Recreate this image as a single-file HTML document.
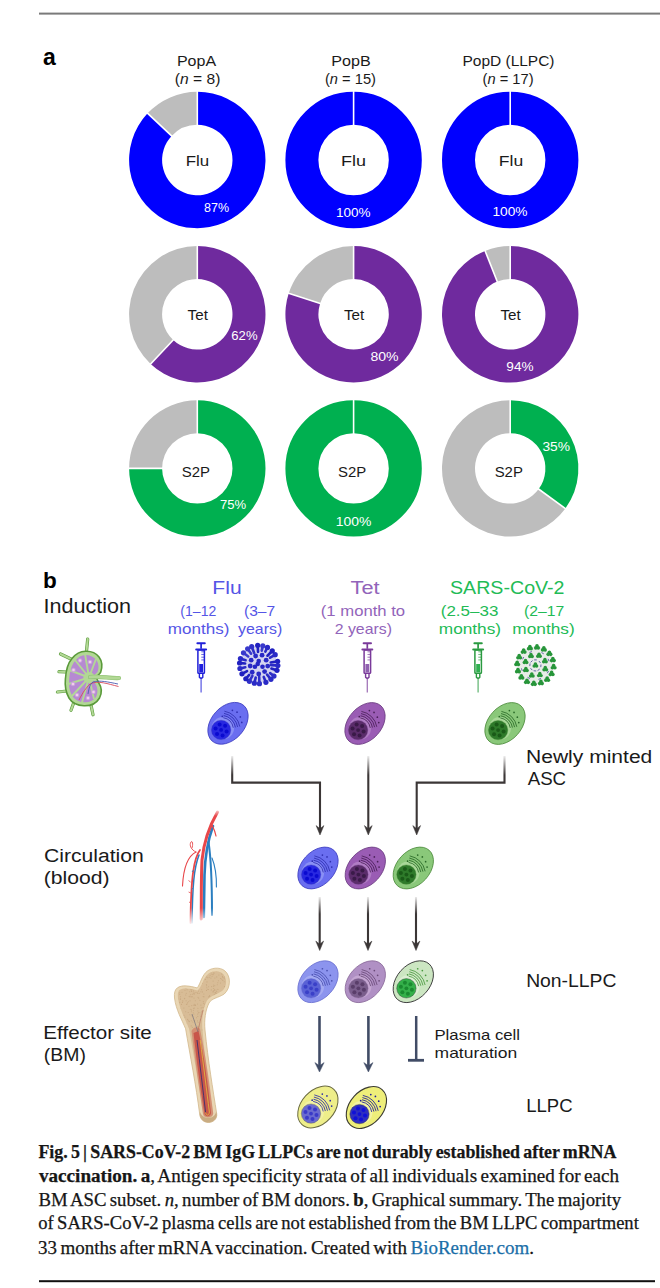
<!DOCTYPE html><html><head><meta charset="utf-8"><style>
html,body{margin:0;padding:0;background:#fff;width:660px;height:1288px;overflow:hidden}
svg{display:block}
text{font-family:"Liberation Sans", sans-serif}
text.serif{font-family:"Liberation Serif", serif;word-spacing:-1.3px;stroke:#161616;stroke-width:0.25px}
</style></head><body>
<svg width="660" height="1288" viewBox="0 0 660 1288">
<defs><linearGradient id="fd" x1="0" y1="0" x2="0" y2="1"><stop offset="0" stop-color="#fff" stop-opacity="1"/><stop offset="1" stop-color="#fff" stop-opacity="0"/></linearGradient></defs>
<rect x="39" y="12.6" width="621" height="2" fill="#7a7a7a"/>
<text x="43" y="64.5" font-size="23" font-weight="bold" fill="#000">a</text>
<text x="176.92" y="65.6" font-size="14.4" fill="#1a1a1a" textLength="39.18" lengthAdjust="spacingAndGlyphs">PopA</text>
<text x="331.21" y="65.6" font-size="14.4" fill="#1a1a1a" textLength="39.44" lengthAdjust="spacingAndGlyphs">PopB</text>
<text x="462.46" y="65.6" font-size="14.4" fill="#1a1a1a" textLength="92.07" lengthAdjust="spacingAndGlyphs">PopD (LLPC)</text>
<text x="174.86" y="84.4" font-size="14.4" fill="#1a1a1a" textLength="45.60" lengthAdjust="spacingAndGlyphs">(<tspan font-style="italic">n</tspan> = 8)</text>
<text x="324.92" y="84.4" font-size="14.4" fill="#1a1a1a" textLength="51.02" lengthAdjust="spacingAndGlyphs">(<tspan font-style="italic">n</tspan> = 15)</text>
<text x="482.52" y="84.4" font-size="14.4" fill="#1a1a1a" textLength="51.02" lengthAdjust="spacingAndGlyphs">(<tspan font-style="italic">n</tspan> = 17)</text>
<path d="M197.30,91.80 A68.2,68.2 0 1 1 147.58,113.31 L171.64,135.90 A35.2,35.2 0 1 0 197.30,124.80Z" fill="#0000ff"/>
<path d="M147.58,113.31 A68.2,68.2 0 0 1 197.30,91.80 L197.30,124.80 A35.2,35.2 0 0 0 171.64,135.90Z" fill="#bdbdbd"/>
<line x1="197.30" y1="125.80" x2="197.30" y2="90.80" stroke="#fff" stroke-width="1.6"/>
<line x1="172.37" y1="136.59" x2="146.86" y2="112.63" stroke="#fff" stroke-width="1.6"/>
<circle cx="353.6" cy="160" r="51.7" fill="none" stroke="#0000ff" stroke-width="33.0"/>
<line x1="353.60" y1="125.80" x2="353.60" y2="90.80" stroke="#fff" stroke-width="1.6"/>
<circle cx="510.2" cy="160" r="51.7" fill="none" stroke="#0000ff" stroke-width="33.0"/>
<line x1="510.20" y1="125.80" x2="510.20" y2="90.80" stroke="#fff" stroke-width="1.6"/>
<path d="M197.30,246.10 A68.2,68.2 0 1 1 150.61,364.02 L173.20,339.96 A35.2,35.2 0 1 0 197.30,279.10Z" fill="#6f2a9e"/>
<path d="M150.61,364.02 A68.2,68.2 0 0 1 197.30,246.10 L197.30,279.10 A35.2,35.2 0 0 0 173.20,339.96Z" fill="#bdbdbd"/>
<line x1="197.30" y1="280.10" x2="197.30" y2="245.10" stroke="#fff" stroke-width="1.6"/>
<line x1="173.89" y1="339.23" x2="149.93" y2="364.74" stroke="#fff" stroke-width="1.6"/>
<path d="M353.60,246.10 A68.2,68.2 0 1 1 288.74,293.23 L320.12,303.42 A35.2,35.2 0 1 0 353.60,279.10Z" fill="#6f2a9e"/>
<path d="M288.74,293.23 A68.2,68.2 0 0 1 353.60,246.10 L353.60,279.10 A35.2,35.2 0 0 0 320.12,303.42Z" fill="#bdbdbd"/>
<line x1="353.60" y1="280.10" x2="353.60" y2="245.10" stroke="#fff" stroke-width="1.6"/>
<line x1="321.07" y1="303.73" x2="287.79" y2="292.92" stroke="#fff" stroke-width="1.6"/>
<path d="M510.20,246.10 A68.2,68.2 0 1 1 485.09,250.89 L497.24,281.57 A35.2,35.2 0 1 0 510.20,279.10Z" fill="#6f2a9e"/>
<path d="M485.09,250.89 A68.2,68.2 0 0 1 510.20,246.10 L510.20,279.10 A35.2,35.2 0 0 0 497.24,281.57Z" fill="#bdbdbd"/>
<line x1="510.20" y1="280.10" x2="510.20" y2="245.10" stroke="#fff" stroke-width="1.6"/>
<line x1="497.61" y1="282.50" x2="484.73" y2="249.96" stroke="#fff" stroke-width="1.6"/>
<path d="M197.30,400.20 A68.2,68.2 0 1 1 129.10,468.40 L162.10,468.40 A35.2,35.2 0 1 0 197.30,433.20Z" fill="#00b050"/>
<path d="M129.10,468.40 A68.2,68.2 0 0 1 197.30,400.20 L197.30,433.20 A35.2,35.2 0 0 0 162.10,468.40Z" fill="#bdbdbd"/>
<line x1="197.30" y1="434.20" x2="197.30" y2="399.20" stroke="#fff" stroke-width="1.6"/>
<line x1="163.10" y1="468.40" x2="128.10" y2="468.40" stroke="#fff" stroke-width="1.6"/>
<circle cx="353.6" cy="468.4" r="51.7" fill="none" stroke="#00b050" stroke-width="33.0"/>
<line x1="353.60" y1="434.20" x2="353.60" y2="399.20" stroke="#fff" stroke-width="1.6"/>
<path d="M510.20,400.20 A68.2,68.2 0 0 1 565.37,508.49 L538.68,489.09 A35.2,35.2 0 0 0 510.20,433.20Z" fill="#00b050"/>
<path d="M565.37,508.49 A68.2,68.2 0 1 1 510.20,400.20 L510.20,433.20 A35.2,35.2 0 1 0 538.68,489.09Z" fill="#bdbdbd"/>
<line x1="510.20" y1="434.20" x2="510.20" y2="399.20" stroke="#fff" stroke-width="1.6"/>
<line x1="537.87" y1="488.50" x2="566.18" y2="509.07" stroke="#fff" stroke-width="1.6"/>
<text x="185.65" y="165.8" font-size="15" fill="#1a1a1a" textLength="23.52" lengthAdjust="spacingAndGlyphs">Flu</text>
<text x="341.06" y="166" font-size="15" fill="#1a1a1a" textLength="24.98" lengthAdjust="spacingAndGlyphs">Flu</text>
<text x="498.89" y="166" font-size="15" fill="#1a1a1a" textLength="24.42" lengthAdjust="spacingAndGlyphs">Flu</text>
<text x="187.60" y="320" font-size="15" fill="#1a1a1a" textLength="20.26" lengthAdjust="spacingAndGlyphs">Tet</text>
<text x="181.75" y="476.5" font-size="15" fill="#1a1a1a" textLength="28.19" lengthAdjust="spacingAndGlyphs">S2P</text>
<text x="343.90" y="320" font-size="15" fill="#1a1a1a" textLength="20.26" lengthAdjust="spacingAndGlyphs">Tet</text>
<text x="338.05" y="476.5" font-size="15" fill="#1a1a1a" textLength="28.19" lengthAdjust="spacingAndGlyphs">S2P</text>
<text x="500.50" y="320" font-size="15" fill="#1a1a1a" textLength="20.26" lengthAdjust="spacingAndGlyphs">Tet</text>
<text x="494.65" y="476.5" font-size="15" fill="#1a1a1a" textLength="28.19" lengthAdjust="spacingAndGlyphs">S2P</text>
<text x="204.00" y="211.6" font-size="12.5" fill="#ffffff" textLength="25.02" lengthAdjust="spacingAndGlyphs">87%</text>
<text x="335.92" y="216.5" font-size="12.5" fill="#ffffff" textLength="34.59" lengthAdjust="spacingAndGlyphs">100%</text>
<text x="492.40" y="216.2" font-size="12.5" fill="#ffffff" textLength="35.11" lengthAdjust="spacingAndGlyphs">100%</text>
<text x="231.35" y="339.5" font-size="12.5" fill="#ffffff" textLength="26.20" lengthAdjust="spacingAndGlyphs">62%</text>
<text x="370.44" y="361" font-size="12.5" fill="#ffffff" textLength="28.14" lengthAdjust="spacingAndGlyphs">80%</text>
<text x="506.32" y="371" font-size="12.5" fill="#ffffff" textLength="27.24" lengthAdjust="spacingAndGlyphs">94%</text>
<text x="219.95" y="509" font-size="12.5" fill="#ffffff" textLength="26.20" lengthAdjust="spacingAndGlyphs">75%</text>
<text x="335.89" y="526" font-size="12.5" fill="#ffffff" textLength="35.64" lengthAdjust="spacingAndGlyphs">100%</text>
<text x="542.45" y="451" font-size="12.5" fill="#ffffff" textLength="27.62" lengthAdjust="spacingAndGlyphs">35%</text>
<text x="43" y="587.6" font-size="22.5" font-weight="bold" fill="#000">b</text>
<text x="43.46" y="613.2" font-size="19.5" fill="#1a1a1a" textLength="87.51" lengthAdjust="spacingAndGlyphs">Induction</text>
<text x="212.31" y="594.4" font-size="17.5" fill="#5555e6" textLength="29.35" lengthAdjust="spacingAndGlyphs">Flu</text>
<text x="180.36" y="615.6" font-size="15" fill="#5555e6" textLength="35.91" lengthAdjust="spacingAndGlyphs">(1–12</text>
<text x="167.71" y="633.6" font-size="15" fill="#5555e6" textLength="61.65" lengthAdjust="spacingAndGlyphs">months)</text>
<text x="243.97" y="615.6" font-size="15" fill="#5555e6" textLength="31.18" lengthAdjust="spacingAndGlyphs">(3–7</text>
<text x="238.00" y="633.6" font-size="15" fill="#5555e6" textLength="44.23" lengthAdjust="spacingAndGlyphs">years)</text>
<text x="350.56" y="594.4" font-size="17.5" fill="#9264ba" textLength="29.02" lengthAdjust="spacingAndGlyphs">Tet</text>
<text x="320.80" y="615.6" font-size="15" fill="#9264ba" textLength="84.33" lengthAdjust="spacingAndGlyphs">(1 month to</text>
<text x="334.71" y="633.6" font-size="15" fill="#9264ba" textLength="57.28" lengthAdjust="spacingAndGlyphs">2 years)</text>
<text x="450.02" y="594.4" font-size="17.5" fill="#22bb55" textLength="114.47" lengthAdjust="spacingAndGlyphs">SARS-CoV-2</text>
<text x="440.78" y="615.6" font-size="15" fill="#22bb55" textLength="57.62" lengthAdjust="spacingAndGlyphs">(2.5–33</text>
<text x="438.79" y="633.6" font-size="15" fill="#22bb55" textLength="62.28" lengthAdjust="spacingAndGlyphs">months)</text>
<text x="524.05" y="615.6" font-size="15" fill="#22bb55" textLength="40.29" lengthAdjust="spacingAndGlyphs">(2–17</text>
<text x="512.39" y="633.6" font-size="15" fill="#22bb55" textLength="62.28" lengthAdjust="spacingAndGlyphs">months)</text>
<text x="526.02" y="762.5" font-size="17.5" fill="#1a1a1a" textLength="126.28" lengthAdjust="spacingAndGlyphs">Newly minted</text>
<text x="527.70" y="785.2" font-size="17.5" fill="#1a1a1a" textLength="38.36" lengthAdjust="spacingAndGlyphs">ASC</text>
<text x="43.94" y="861.7" font-size="18" fill="#1a1a1a" textLength="99.91" lengthAdjust="spacingAndGlyphs">Circulation</text>
<text x="43.73" y="884" font-size="18" fill="#1a1a1a" textLength="65.89" lengthAdjust="spacingAndGlyphs">(blood)</text>
<text x="43.35" y="1038.9" font-size="17.5" fill="#1a1a1a" textLength="108.50" lengthAdjust="spacingAndGlyphs">Effector site</text>
<text x="43.84" y="1061" font-size="17.5" fill="#1a1a1a" textLength="42.04" lengthAdjust="spacingAndGlyphs">(BM)</text>
<text x="526.15" y="987.3" font-size="17.5" fill="#1a1a1a" textLength="90.30" lengthAdjust="spacingAndGlyphs">Non-LLPC</text>
<text x="526.22" y="1111.8" font-size="17.5" fill="#1a1a1a" textLength="46.35" lengthAdjust="spacingAndGlyphs">LLPC</text>
<text x="434.46" y="1040" font-size="15" fill="#1a1a1a" textLength="85.59" lengthAdjust="spacingAndGlyphs">Plasma cell</text>
<text x="434.58" y="1057.6" font-size="15" fill="#1a1a1a" textLength="82.55" lengthAdjust="spacingAndGlyphs">maturation</text>
<g transform="translate(190,638)" fill="none" stroke="#2020d8">
<line x1="7.4" y1="5.2" x2="14.8" y2="5.2" stroke-width="2" stroke-linecap="round"/>
<line x1="11.1" y1="5.5" x2="11.1" y2="10.8" stroke-width="1.7"/>
<line x1="6.2" y1="11.5" x2="16.1" y2="11.5" stroke-width="2" stroke-linecap="round"/>
<rect x="7.9" y="12" width="6.5" height="23.2" rx="0.8" stroke-width="1.5"/>
<line x1="11.3" y1="13.8" x2="14" y2="13.8" stroke-width="1.1" opacity="0.65"/>
<line x1="11.3" y1="16.5" x2="14" y2="16.5" stroke-width="1.1" opacity="0.65"/>
<line x1="11.3" y1="19.2" x2="14" y2="19.2" stroke-width="1.1" opacity="0.65"/>
<line x1="11.3" y1="21.9" x2="14" y2="21.9" stroke-width="1.1" opacity="0.65"/>
<rect x="9.2" y="26" width="3.8" height="8.4" fill="#2020e0" stroke="none"/>
<path d="M9.4,35.4 L9.4,39.2 Q11.1,41.2 12.8,39.2 L12.8,35.4" stroke-width="1.4"/>
<line x1="11.1" y1="40.8" x2="11.1" y2="54.5" stroke-width="1.3" opacity="0.7"/>
</g>
<g transform="translate(258.7,664.5)">
<circle r="18.5" fill="#d4d4f0"/>
<line x1="12.36" y1="0.64" x2="17.98" y2="0.92" stroke="#2a2ac6" stroke-width="2.6" stroke-linecap="round"/>
<circle cx="19.17" cy="0.99" r="2.6" fill="#2a2ac6"/>
<line x1="12.70" y1="4.08" x2="17.14" y2="5.50" stroke="#2020c0" stroke-width="2.6" stroke-linecap="round"/>
<circle cx="18.28" cy="5.87" r="2.6" fill="#2020c0"/>
<line x1="11.37" y1="8.63" x2="14.33" y2="10.89" stroke="#3030c8" stroke-width="2.6" stroke-linecap="round"/>
<circle cx="15.29" cy="11.61" r="2.6" fill="#3030c8"/>
<line x1="8.35" y1="10.07" x2="11.49" y2="13.85" stroke="#2a2ac6" stroke-width="2.6" stroke-linecap="round"/>
<circle cx="12.26" cy="14.78" r="2.6" fill="#2a2ac6"/>
<line x1="5.03" y1="12.39" x2="6.77" y2="16.68" stroke="#2a2ac6" stroke-width="2.6" stroke-linecap="round"/>
<circle cx="7.22" cy="17.79" r="2.6" fill="#2a2ac6"/>
<line x1="0.48" y1="12.30" x2="0.70" y2="17.99" stroke="#3030c8" stroke-width="2.6" stroke-linecap="round"/>
<circle cx="0.74" cy="19.19" r="2.6" fill="#3030c8"/>
<line x1="-3.02" y1="13.11" x2="-4.04" y2="17.54" stroke="#2a2ac6" stroke-width="2.6" stroke-linecap="round"/>
<circle cx="-4.31" cy="18.71" r="2.6" fill="#2a2ac6"/>
<line x1="-6.30" y1="11.36" x2="-8.73" y2="15.74" stroke="#3030c8" stroke-width="2.6" stroke-linecap="round"/>
<circle cx="-9.31" cy="16.79" r="2.6" fill="#3030c8"/>
<line x1="-9.50" y1="10.48" x2="-12.09" y2="13.34" stroke="#2020c0" stroke-width="2.6" stroke-linecap="round"/>
<circle cx="-12.89" cy="14.23" r="2.6" fill="#2020c0"/>
<line x1="-11.65" y1="6.52" x2="-15.71" y2="8.78" stroke="#2020c0" stroke-width="2.6" stroke-linecap="round"/>
<circle cx="-16.76" cy="9.37" r="2.6" fill="#2020c0"/>
<line x1="-13.41" y1="2.85" x2="-17.61" y2="3.74" stroke="#2a2ac6" stroke-width="2.6" stroke-linecap="round"/>
<circle cx="-18.78" cy="3.99" r="2.6" fill="#2a2ac6"/>
<line x1="-13.56" y1="-1.06" x2="-17.94" y2="-1.41" stroke="#2020c0" stroke-width="2.6" stroke-linecap="round"/>
<circle cx="-19.14" cy="-1.50" r="2.6" fill="#2020c0"/>
<line x1="-13.11" y1="-4.25" x2="-17.12" y2="-5.55" stroke="#2a2ac6" stroke-width="2.6" stroke-linecap="round"/>
<circle cx="-18.27" cy="-5.92" r="2.6" fill="#2a2ac6"/>
<line x1="-10.51" y1="-8.05" x2="-14.29" y2="-10.94" stroke="#3a3acc" stroke-width="2.6" stroke-linecap="round"/>
<circle cx="-15.24" cy="-11.67" r="2.6" fill="#3a3acc"/>
<line x1="-7.60" y1="-10.75" x2="-10.39" y2="-14.70" stroke="#3a3acc" stroke-width="2.6" stroke-linecap="round"/>
<circle cx="-11.08" cy="-15.68" r="2.6" fill="#3a3acc"/>
<line x1="-4.60" y1="-11.75" x2="-6.56" y2="-16.76" stroke="#3030c8" stroke-width="2.6" stroke-linecap="round"/>
<circle cx="-7.00" cy="-17.88" r="2.6" fill="#3030c8"/>
<line x1="-0.66" y1="-12.59" x2="-0.94" y2="-17.98" stroke="#2020c0" stroke-width="2.6" stroke-linecap="round"/>
<circle cx="-1.00" cy="-19.17" r="2.6" fill="#2020c0"/>
<line x1="3.03" y1="-13.86" x2="3.84" y2="-17.58" stroke="#3a3acc" stroke-width="2.6" stroke-linecap="round"/>
<circle cx="4.10" cy="-18.76" r="2.6" fill="#3a3acc"/>
<line x1="6.62" y1="-12.84" x2="8.25" y2="-16.00" stroke="#2a2ac6" stroke-width="2.6" stroke-linecap="round"/>
<circle cx="8.80" cy="-17.07" r="2.6" fill="#2a2ac6"/>
<line x1="8.77" y1="-8.78" x2="12.72" y2="-12.73" stroke="#2020c0" stroke-width="2.6" stroke-linecap="round"/>
<circle cx="13.57" cy="-13.58" r="2.6" fill="#2020c0"/>
<line x1="11.36" y1="-6.77" x2="15.46" y2="-9.22" stroke="#2a2ac6" stroke-width="2.6" stroke-linecap="round"/>
<circle cx="16.49" cy="-9.84" r="2.6" fill="#2a2ac6"/>
<line x1="12.02" y1="-2.03" x2="17.75" y2="-3.00" stroke="#2020c0" stroke-width="2.6" stroke-linecap="round"/>
<circle cx="18.93" cy="-3.20" r="2.6" fill="#2020c0"/>
<circle cx="9.04" cy="1.59" r="2.4" fill="#2a2ac6"/>
<circle cx="5.91" cy="7.05" r="2.4" fill="#2a2ac6"/>
<circle cx="0.00" cy="9.49" r="2.4" fill="#2a2ac6"/>
<circle cx="-6.49" cy="7.73" r="2.4" fill="#2a2ac6"/>
<circle cx="-8.51" cy="1.50" r="2.4" fill="#2a2ac6"/>
<circle cx="-7.52" cy="-4.34" r="2.4" fill="#2a2ac6"/>
<circle cx="-3.09" cy="-8.49" r="2.4" fill="#2a2ac6"/>
<circle cx="3.38" cy="-9.30" r="2.4" fill="#2a2ac6"/>
<circle cx="7.47" cy="-4.31" r="2.4" fill="#2a2ac6"/>
<circle cx="0" cy="-3.5" r="2.3" fill="#2626c4"/>
<circle cx="-3.8" cy="2.2" r="2.3" fill="#2626c4"/>
<circle cx="3.8" cy="2.2" r="2.3" fill="#2626c4"/>
<circle cx="-1" cy="-0.5" r="2.3" fill="#2626c4"/>
</g>
<g transform="translate(356.2,638)" fill="none" stroke="#7a3a9a">
<line x1="7.4" y1="5.2" x2="14.8" y2="5.2" stroke-width="2" stroke-linecap="round"/>
<line x1="11.1" y1="5.5" x2="11.1" y2="10.8" stroke-width="1.7"/>
<line x1="6.2" y1="11.5" x2="16.1" y2="11.5" stroke-width="2" stroke-linecap="round"/>
<rect x="7.9" y="12" width="6.5" height="23.2" rx="0.8" stroke-width="1.5"/>
<line x1="11.3" y1="13.8" x2="14" y2="13.8" stroke-width="1.1" opacity="0.65"/>
<line x1="11.3" y1="16.5" x2="14" y2="16.5" stroke-width="1.1" opacity="0.65"/>
<line x1="11.3" y1="19.2" x2="14" y2="19.2" stroke-width="1.1" opacity="0.65"/>
<line x1="11.3" y1="21.9" x2="14" y2="21.9" stroke-width="1.1" opacity="0.65"/>
<rect x="9.2" y="26" width="3.8" height="8.4" fill="#9060b0" stroke="none"/>
<path d="M9.4,35.4 L9.4,39.2 Q11.1,41.2 12.8,39.2 L12.8,35.4" stroke-width="1.4"/>
<line x1="11.1" y1="40.8" x2="11.1" y2="54.5" stroke-width="1.3" opacity="0.7"/>
</g>
<g transform="translate(467,638)" fill="none" stroke="#2a9a40">
<line x1="7.4" y1="5.2" x2="14.8" y2="5.2" stroke-width="2" stroke-linecap="round"/>
<line x1="11.1" y1="5.5" x2="11.1" y2="10.8" stroke-width="1.7"/>
<line x1="6.2" y1="11.5" x2="16.1" y2="11.5" stroke-width="2" stroke-linecap="round"/>
<rect x="7.9" y="12" width="6.5" height="23.2" rx="0.8" stroke-width="1.5"/>
<line x1="11.3" y1="13.8" x2="14" y2="13.8" stroke-width="1.1" opacity="0.65"/>
<line x1="11.3" y1="16.5" x2="14" y2="16.5" stroke-width="1.1" opacity="0.65"/>
<line x1="11.3" y1="19.2" x2="14" y2="19.2" stroke-width="1.1" opacity="0.65"/>
<line x1="11.3" y1="21.9" x2="14" y2="21.9" stroke-width="1.1" opacity="0.65"/>
<rect x="9.2" y="26" width="3.8" height="8.4" fill="#30b050" stroke="none"/>
<path d="M9.4,35.4 L9.4,39.2 Q11.1,41.2 12.8,39.2 L12.8,35.4" stroke-width="1.4"/>
<line x1="11.1" y1="40.8" x2="11.1" y2="54.5" stroke-width="1.3" opacity="0.7"/>
</g>
<g transform="translate(535.4,665.4)">
<circle r="19" fill="#e8ece8"/>
<circle cx="18.23" cy="0.14" r="1.80" fill="#27953a"/><circle cx="19.49" cy="2.32" r="1.80" fill="#27953a"/><circle cx="16.97" cy="2.32" r="1.80" fill="#27953a"/>
<circle cx="16.23" cy="7.00" r="1.80" fill="#27953a"/><circle cx="17.49" cy="9.17" r="1.80" fill="#27953a"/><circle cx="14.98" cy="9.17" r="1.80" fill="#27953a"/>
<circle cx="11.76" cy="12.57" r="1.80" fill="#27953a"/><circle cx="13.02" cy="14.74" r="1.80" fill="#27953a"/><circle cx="10.51" cy="14.74" r="1.80" fill="#27953a"/>
<circle cx="5.50" cy="16.00" r="1.80" fill="#27953a"/><circle cx="6.76" cy="18.18" r="1.80" fill="#27953a"/><circle cx="4.25" cy="18.18" r="1.80" fill="#27953a"/>
<circle cx="-1.59" cy="16.78" r="1.80" fill="#27953a"/><circle cx="-0.34" cy="18.96" r="1.80" fill="#27953a"/><circle cx="-2.85" cy="18.96" r="1.80" fill="#27953a"/>
<circle cx="-8.45" cy="14.78" r="1.80" fill="#27953a"/><circle cx="-7.19" cy="16.96" r="1.80" fill="#27953a"/><circle cx="-9.71" cy="16.96" r="1.80" fill="#27953a"/>
<circle cx="-14.02" cy="10.31" r="1.80" fill="#27953a"/><circle cx="-12.76" cy="12.49" r="1.80" fill="#27953a"/><circle cx="-15.27" cy="12.49" r="1.80" fill="#27953a"/>
<circle cx="-17.45" cy="4.05" r="1.80" fill="#27953a"/><circle cx="-16.20" cy="6.23" r="1.80" fill="#27953a"/><circle cx="-18.71" cy="6.23" r="1.80" fill="#27953a"/>
<circle cx="-18.23" cy="-3.04" r="1.80" fill="#27953a"/><circle cx="-16.97" cy="-0.87" r="1.80" fill="#27953a"/><circle cx="-19.49" cy="-0.87" r="1.80" fill="#27953a"/>
<circle cx="-16.23" cy="-9.90" r="1.80" fill="#27953a"/><circle cx="-14.98" cy="-7.72" r="1.80" fill="#27953a"/><circle cx="-17.49" cy="-7.72" r="1.80" fill="#27953a"/>
<circle cx="-11.76" cy="-15.47" r="1.80" fill="#27953a"/><circle cx="-10.51" cy="-13.29" r="1.80" fill="#27953a"/><circle cx="-13.02" cy="-13.29" r="1.80" fill="#27953a"/>
<circle cx="-5.50" cy="-18.90" r="1.80" fill="#27953a"/><circle cx="-4.25" cy="-16.73" r="1.80" fill="#27953a"/><circle cx="-6.76" cy="-16.73" r="1.80" fill="#27953a"/>
<circle cx="1.59" cy="-19.68" r="1.80" fill="#27953a"/><circle cx="2.85" cy="-17.51" r="1.80" fill="#27953a"/><circle cx="0.34" cy="-17.51" r="1.80" fill="#27953a"/>
<circle cx="8.45" cy="-17.68" r="1.80" fill="#27953a"/><circle cx="9.71" cy="-15.51" r="1.80" fill="#27953a"/><circle cx="7.19" cy="-15.51" r="1.80" fill="#27953a"/>
<circle cx="14.02" cy="-13.21" r="1.80" fill="#27953a"/><circle cx="15.27" cy="-11.04" r="1.80" fill="#27953a"/><circle cx="12.76" cy="-11.04" r="1.80" fill="#27953a"/>
<circle cx="17.45" cy="-6.95" r="1.80" fill="#27953a"/><circle cx="18.71" cy="-4.78" r="1.80" fill="#27953a"/><circle cx="16.20" cy="-4.78" r="1.80" fill="#27953a"/>
<circle cx="9.87" cy="2.19" r="1.74" fill="#27953a"/><circle cx="11.08" cy="4.29" r="1.74" fill="#27953a"/><circle cx="8.65" cy="4.29" r="1.74" fill="#27953a"/>
<circle cx="4.44" cy="8.12" r="1.74" fill="#27953a"/><circle cx="5.65" cy="10.22" r="1.74" fill="#27953a"/><circle cx="3.23" cy="10.22" r="1.74" fill="#27953a"/>
<circle cx="-3.59" cy="8.47" r="1.74" fill="#27953a"/><circle cx="-2.38" cy="10.57" r="1.74" fill="#27953a"/><circle cx="-4.80" cy="10.57" r="1.74" fill="#27953a"/>
<circle cx="-9.52" cy="3.04" r="1.74" fill="#27953a"/><circle cx="-8.30" cy="5.14" r="1.74" fill="#27953a"/><circle cx="-10.73" cy="5.14" r="1.74" fill="#27953a"/>
<circle cx="-9.87" cy="-4.99" r="1.74" fill="#27953a"/><circle cx="-8.65" cy="-2.89" r="1.74" fill="#27953a"/><circle cx="-11.08" cy="-2.89" r="1.74" fill="#27953a"/>
<circle cx="-4.44" cy="-10.92" r="1.74" fill="#27953a"/><circle cx="-3.23" cy="-8.82" r="1.74" fill="#27953a"/><circle cx="-5.65" cy="-8.82" r="1.74" fill="#27953a"/>
<circle cx="3.59" cy="-11.27" r="1.74" fill="#27953a"/><circle cx="4.80" cy="-9.17" r="1.74" fill="#27953a"/><circle cx="2.38" cy="-9.17" r="1.74" fill="#27953a"/>
<circle cx="9.52" cy="-5.84" r="1.74" fill="#27953a"/><circle cx="10.73" cy="-3.74" r="1.74" fill="#27953a"/><circle cx="8.30" cy="-3.74" r="1.74" fill="#27953a"/>
<circle cx="0.00" cy="-1.40" r="1.74" fill="#27953a"/><circle cx="1.21" cy="0.70" r="1.74" fill="#27953a"/><circle cx="-1.21" cy="0.70" r="1.74" fill="#27953a"/>
<line x1="5.59" y1="-0.86" x2="5.38" y2="1.73" stroke="#6464a8" stroke-width="1"/>
<line x1="13.14" y1="5.54" x2="11.91" y2="7.83" stroke="#6464a8" stroke-width="1"/>
<line x1="4.27" y1="3.70" x2="2.16" y2="5.22" stroke="#6464a8" stroke-width="1"/>
<line x1="5.59" y1="13.12" x2="3.11" y2="13.92" stroke="#6464a8" stroke-width="1"/>
<line x1="0.81" y1="5.59" x2="-1.78" y2="5.36" stroke="#6464a8" stroke-width="1"/>
<line x1="-5.60" y1="13.11" x2="-7.89" y2="11.88" stroke="#6464a8" stroke-width="1"/>
<line x1="-3.12" y1="4.71" x2="-4.90" y2="2.81" stroke="#6464a8" stroke-width="1"/>
<line x1="-13.16" y1="5.48" x2="-13.94" y2="3.00" stroke="#6464a8" stroke-width="1"/>
<line x1="-5.61" y1="0.69" x2="-5.32" y2="-1.90" stroke="#6464a8" stroke-width="1"/>
<line x1="-12.90" y1="-6.07" x2="-11.59" y2="-8.31" stroke="#6464a8" stroke-width="1"/>
<line x1="-4.76" y1="-3.05" x2="-2.89" y2="-4.86" stroke="#6464a8" stroke-width="1"/>
<line x1="-5.96" y1="-12.96" x2="-3.51" y2="-13.82" stroke="#6464a8" stroke-width="1"/>
<line x1="-1.21" y1="-5.52" x2="1.39" y2="-5.48" stroke="#6464a8" stroke-width="1"/>
<line x1="6.11" y1="-12.88" x2="8.35" y2="-11.56" stroke="#6464a8" stroke-width="1"/>
<line x1="3.53" y1="-4.41" x2="5.13" y2="-2.37" stroke="#6464a8" stroke-width="1"/>
<line x1="12.67" y1="-6.54" x2="13.65" y2="-4.13" stroke="#6464a8" stroke-width="1"/>
</g>
<g transform="translate(228,723.3)">
<ellipse cx="0" cy="0" rx="23.8" ry="16.6" transform="rotate(-48)" fill="#6a6ef0" stroke="#3c3cc0" stroke-width="0.8"/>
<circle cx="-5.1000000000000005" cy="4.8" r="11.2" fill="#8a90f5"/>
<path d="M-4.75,-5.61 A12.4,12.4 0 0 1 5.31,4.45" fill="none" stroke="#3030b0" stroke-width="0.85"/>
<path d="M-4.36,-7.78 A14.6,14.6 0 0 1 7.48,4.06" fill="none" stroke="#3030b0" stroke-width="0.85"/>
<path d="M-3.98,-9.94 A16.8,16.8 0 0 1 9.64,3.68" fill="none" stroke="#3030b0" stroke-width="0.85"/>
<path d="M-3.60,-12.11 A19.0,19.0 0 0 1 11.81,3.30" fill="none" stroke="#3030b0" stroke-width="0.85"/>
<circle cx="4.40" cy="-12.97" r="0.85" fill="#3030b0"/>
<circle cx="9.03" cy="-11.09" r="0.85" fill="#3030b0"/>
<circle cx="12.33" cy="-6.37" r="0.85" fill="#3030b0"/>
<circle cx="-5.72" cy="-6.85" r="0.85" fill="#3030b0"/>
<circle cx="13.77" cy="-0.92" r="0.85" fill="#3030b0"/>
<circle cx="-6.9" cy="6.6" r="9.7" fill="#2828e0" stroke="#3c3cc0" stroke-width="0.4"/>
<circle cx="-6.9" cy="6.6" r="1.9" fill="#0a0ad0"/>
<circle cx="-1.39" cy="8.08" r="2.0" fill="#0a0ad0"/>
<circle cx="-5.42" cy="12.11" r="2.0" fill="#0a0ad0"/>
<circle cx="-10.93" cy="10.63" r="2.0" fill="#0a0ad0"/>
<circle cx="-12.41" cy="5.12" r="2.0" fill="#0a0ad0"/>
<circle cx="-8.38" cy="1.09" r="2.0" fill="#0a0ad0"/>
<circle cx="-2.87" cy="2.57" r="2.0" fill="#0a0ad0"/>
</g>
<g transform="translate(365,723.5)">
<ellipse cx="0" cy="0" rx="23.8" ry="16.6" transform="rotate(-48)" fill="#9a5cb4" stroke="#6a3a80" stroke-width="0.8"/>
<circle cx="-5.1000000000000005" cy="4.8" r="11.2" fill="#b07cc4"/>
<path d="M-4.75,-5.61 A12.4,12.4 0 0 1 5.31,4.45" fill="none" stroke="#4a2058" stroke-width="0.85"/>
<path d="M-4.36,-7.78 A14.6,14.6 0 0 1 7.48,4.06" fill="none" stroke="#4a2058" stroke-width="0.85"/>
<path d="M-3.98,-9.94 A16.8,16.8 0 0 1 9.64,3.68" fill="none" stroke="#4a2058" stroke-width="0.85"/>
<path d="M-3.60,-12.11 A19.0,19.0 0 0 1 11.81,3.30" fill="none" stroke="#4a2058" stroke-width="0.85"/>
<circle cx="4.40" cy="-12.97" r="0.85" fill="#4a2058"/>
<circle cx="9.03" cy="-11.09" r="0.85" fill="#4a2058"/>
<circle cx="12.33" cy="-6.37" r="0.85" fill="#4a2058"/>
<circle cx="-5.72" cy="-6.85" r="0.85" fill="#4a2058"/>
<circle cx="13.77" cy="-0.92" r="0.85" fill="#4a2058"/>
<circle cx="-6.9" cy="6.6" r="9.7" fill="#5a2c6a" stroke="#6a3a80" stroke-width="0.4"/>
<circle cx="-6.9" cy="6.6" r="1.9" fill="#3a1a48"/>
<circle cx="-1.39" cy="8.08" r="2.0" fill="#3a1a48"/>
<circle cx="-5.42" cy="12.11" r="2.0" fill="#3a1a48"/>
<circle cx="-10.93" cy="10.63" r="2.0" fill="#3a1a48"/>
<circle cx="-12.41" cy="5.12" r="2.0" fill="#3a1a48"/>
<circle cx="-8.38" cy="1.09" r="2.0" fill="#3a1a48"/>
<circle cx="-2.87" cy="2.57" r="2.0" fill="#3a1a48"/>
</g>
<g transform="translate(505,723.5)">
<ellipse cx="0" cy="0" rx="23.8" ry="16.6" transform="rotate(-48)" fill="#8ac87a" stroke="#4a8a3a" stroke-width="0.8"/>
<circle cx="-5.1000000000000005" cy="4.8" r="11.2" fill="#a8d898"/>
<path d="M-4.75,-5.61 A12.4,12.4 0 0 1 5.31,4.45" fill="none" stroke="#2a6a28" stroke-width="0.85"/>
<path d="M-4.36,-7.78 A14.6,14.6 0 0 1 7.48,4.06" fill="none" stroke="#2a6a28" stroke-width="0.85"/>
<path d="M-3.98,-9.94 A16.8,16.8 0 0 1 9.64,3.68" fill="none" stroke="#2a6a28" stroke-width="0.85"/>
<path d="M-3.60,-12.11 A19.0,19.0 0 0 1 11.81,3.30" fill="none" stroke="#2a6a28" stroke-width="0.85"/>
<circle cx="4.40" cy="-12.97" r="0.85" fill="#2a6a28"/>
<circle cx="9.03" cy="-11.09" r="0.85" fill="#2a6a28"/>
<circle cx="12.33" cy="-6.37" r="0.85" fill="#2a6a28"/>
<circle cx="-5.72" cy="-6.85" r="0.85" fill="#2a6a28"/>
<circle cx="13.77" cy="-0.92" r="0.85" fill="#2a6a28"/>
<circle cx="-6.9" cy="6.6" r="9.7" fill="#2e7a2a" stroke="#4a8a3a" stroke-width="0.4"/>
<circle cx="-6.9" cy="6.6" r="1.9" fill="#1a5a18"/>
<circle cx="-1.39" cy="8.08" r="2.0" fill="#1a5a18"/>
<circle cx="-5.42" cy="12.11" r="2.0" fill="#1a5a18"/>
<circle cx="-10.93" cy="10.63" r="2.0" fill="#1a5a18"/>
<circle cx="-12.41" cy="5.12" r="2.0" fill="#1a5a18"/>
<circle cx="-8.38" cy="1.09" r="2.0" fill="#1a5a18"/>
<circle cx="-2.87" cy="2.57" r="2.0" fill="#1a5a18"/>
</g>
<path d="M232.2,756 L232.2,782.6 L320,782.6 L320,830" fill="none" stroke="#3b3636" stroke-width="2.1"/>
<path d="M316.1,825.6 L320,828.7 L323.9,825.6 L320,835Z" fill="#3b3636" stroke="#3b3636" stroke-width="0.5" stroke-linejoin="round"/>
<path d="M368.3,756 L368.3,830" fill="none" stroke="#3b3636" stroke-width="2.1"/>
<path d="M364.40000000000003,825.6 L368.3,828.7 L372.2,825.6 L368.3,835Z" fill="#3b3636" stroke="#3b3636" stroke-width="0.5" stroke-linejoin="round"/>
<path d="M504.5,756 L504.5,782.6 L416.7,782.6 L416.7,830" fill="none" stroke="#3b3636" stroke-width="2.1"/>
<path d="M412.8,825.6 L416.7,828.7 L420.59999999999997,825.6 L416.7,835Z" fill="#3b3636" stroke="#3b3636" stroke-width="0.5" stroke-linejoin="round"/>
<rect x="225" y="754" width="290" height="21" fill="url(#fd)"/>
<g transform="translate(318,868)">
<ellipse cx="0" cy="0" rx="23.8" ry="16.6" transform="rotate(-48)" fill="#6a6ef0" stroke="#3c3cc0" stroke-width="0.8"/>
<circle cx="-5.1000000000000005" cy="4.8" r="11.2" fill="#8a90f5"/>
<path d="M-4.75,-5.61 A12.4,12.4 0 0 1 5.31,4.45" fill="none" stroke="#3030b0" stroke-width="0.85"/>
<path d="M-4.36,-7.78 A14.6,14.6 0 0 1 7.48,4.06" fill="none" stroke="#3030b0" stroke-width="0.85"/>
<path d="M-3.98,-9.94 A16.8,16.8 0 0 1 9.64,3.68" fill="none" stroke="#3030b0" stroke-width="0.85"/>
<path d="M-3.60,-12.11 A19.0,19.0 0 0 1 11.81,3.30" fill="none" stroke="#3030b0" stroke-width="0.85"/>
<circle cx="4.40" cy="-12.97" r="0.85" fill="#3030b0"/>
<circle cx="9.03" cy="-11.09" r="0.85" fill="#3030b0"/>
<circle cx="12.33" cy="-6.37" r="0.85" fill="#3030b0"/>
<circle cx="-5.72" cy="-6.85" r="0.85" fill="#3030b0"/>
<circle cx="13.77" cy="-0.92" r="0.85" fill="#3030b0"/>
<circle cx="-6.9" cy="6.6" r="9.7" fill="#2828e0" stroke="#3c3cc0" stroke-width="0.4"/>
<circle cx="-6.9" cy="6.6" r="1.9" fill="#0a0ad0"/>
<circle cx="-1.39" cy="8.08" r="2.0" fill="#0a0ad0"/>
<circle cx="-5.42" cy="12.11" r="2.0" fill="#0a0ad0"/>
<circle cx="-10.93" cy="10.63" r="2.0" fill="#0a0ad0"/>
<circle cx="-12.41" cy="5.12" r="2.0" fill="#0a0ad0"/>
<circle cx="-8.38" cy="1.09" r="2.0" fill="#0a0ad0"/>
<circle cx="-2.87" cy="2.57" r="2.0" fill="#0a0ad0"/>
</g>
<g transform="translate(365.3,868)">
<ellipse cx="0" cy="0" rx="23.8" ry="16.6" transform="rotate(-48)" fill="#9a5cb4" stroke="#6a3a80" stroke-width="0.8"/>
<circle cx="-5.1000000000000005" cy="4.8" r="11.2" fill="#b07cc4"/>
<path d="M-4.75,-5.61 A12.4,12.4 0 0 1 5.31,4.45" fill="none" stroke="#4a2058" stroke-width="0.85"/>
<path d="M-4.36,-7.78 A14.6,14.6 0 0 1 7.48,4.06" fill="none" stroke="#4a2058" stroke-width="0.85"/>
<path d="M-3.98,-9.94 A16.8,16.8 0 0 1 9.64,3.68" fill="none" stroke="#4a2058" stroke-width="0.85"/>
<path d="M-3.60,-12.11 A19.0,19.0 0 0 1 11.81,3.30" fill="none" stroke="#4a2058" stroke-width="0.85"/>
<circle cx="4.40" cy="-12.97" r="0.85" fill="#4a2058"/>
<circle cx="9.03" cy="-11.09" r="0.85" fill="#4a2058"/>
<circle cx="12.33" cy="-6.37" r="0.85" fill="#4a2058"/>
<circle cx="-5.72" cy="-6.85" r="0.85" fill="#4a2058"/>
<circle cx="13.77" cy="-0.92" r="0.85" fill="#4a2058"/>
<circle cx="-6.9" cy="6.6" r="9.7" fill="#5a2c6a" stroke="#6a3a80" stroke-width="0.4"/>
<circle cx="-6.9" cy="6.6" r="1.9" fill="#3a1a48"/>
<circle cx="-1.39" cy="8.08" r="2.0" fill="#3a1a48"/>
<circle cx="-5.42" cy="12.11" r="2.0" fill="#3a1a48"/>
<circle cx="-10.93" cy="10.63" r="2.0" fill="#3a1a48"/>
<circle cx="-12.41" cy="5.12" r="2.0" fill="#3a1a48"/>
<circle cx="-8.38" cy="1.09" r="2.0" fill="#3a1a48"/>
<circle cx="-2.87" cy="2.57" r="2.0" fill="#3a1a48"/>
</g>
<g transform="translate(413.3,868)">
<ellipse cx="0" cy="0" rx="23.8" ry="16.6" transform="rotate(-48)" fill="#8ac87a" stroke="#4a8a3a" stroke-width="0.8"/>
<circle cx="-5.1000000000000005" cy="4.8" r="11.2" fill="#a8d898"/>
<path d="M-4.75,-5.61 A12.4,12.4 0 0 1 5.31,4.45" fill="none" stroke="#2a6a28" stroke-width="0.85"/>
<path d="M-4.36,-7.78 A14.6,14.6 0 0 1 7.48,4.06" fill="none" stroke="#2a6a28" stroke-width="0.85"/>
<path d="M-3.98,-9.94 A16.8,16.8 0 0 1 9.64,3.68" fill="none" stroke="#2a6a28" stroke-width="0.85"/>
<path d="M-3.60,-12.11 A19.0,19.0 0 0 1 11.81,3.30" fill="none" stroke="#2a6a28" stroke-width="0.85"/>
<circle cx="4.40" cy="-12.97" r="0.85" fill="#2a6a28"/>
<circle cx="9.03" cy="-11.09" r="0.85" fill="#2a6a28"/>
<circle cx="12.33" cy="-6.37" r="0.85" fill="#2a6a28"/>
<circle cx="-5.72" cy="-6.85" r="0.85" fill="#2a6a28"/>
<circle cx="13.77" cy="-0.92" r="0.85" fill="#2a6a28"/>
<circle cx="-6.9" cy="6.6" r="9.7" fill="#2e7a2a" stroke="#4a8a3a" stroke-width="0.4"/>
<circle cx="-6.9" cy="6.6" r="1.9" fill="#1a5a18"/>
<circle cx="-1.39" cy="8.08" r="2.0" fill="#1a5a18"/>
<circle cx="-5.42" cy="12.11" r="2.0" fill="#1a5a18"/>
<circle cx="-10.93" cy="10.63" r="2.0" fill="#1a5a18"/>
<circle cx="-12.41" cy="5.12" r="2.0" fill="#1a5a18"/>
<circle cx="-8.38" cy="1.09" r="2.0" fill="#1a5a18"/>
<circle cx="-2.87" cy="2.57" r="2.0" fill="#1a5a18"/>
</g>
<path d="M319.7,897 L319.7,945.5" fill="none" stroke="#3b3636" stroke-width="2.1"/>
<path d="M315.8,941.1 L319.7,944.2 L323.59999999999997,941.1 L319.7,950.5Z" fill="#3b3636" stroke="#3b3636" stroke-width="0.5" stroke-linejoin="round"/>
<path d="M368,897 L368,945.5" fill="none" stroke="#3b3636" stroke-width="2.1"/>
<path d="M364.1,941.1 L368,944.2 L371.9,941.1 L368,950.5Z" fill="#3b3636" stroke="#3b3636" stroke-width="0.5" stroke-linejoin="round"/>
<path d="M416,897 L416,945.5" fill="none" stroke="#3b3636" stroke-width="2.1"/>
<path d="M412.1,941.1 L416,944.2 L419.9,941.1 L416,950.5Z" fill="#3b3636" stroke="#3b3636" stroke-width="0.5" stroke-linejoin="round"/>
<rect x="310" y="895" width="115" height="19" fill="url(#fd)"/>
<g transform="translate(318,981.7)">
<ellipse cx="0" cy="0" rx="23.8" ry="16.6" transform="rotate(-48)" fill="#8c94ee" stroke="#6a70d0" stroke-width="0.8"/>
<circle cx="-5.1000000000000005" cy="4.8" r="11.2" fill="#a4aaf2"/>
<path d="M-4.75,-5.61 A12.4,12.4 0 0 1 5.31,4.45" fill="none" stroke="#4a50b0" stroke-width="0.85"/>
<path d="M-4.36,-7.78 A14.6,14.6 0 0 1 7.48,4.06" fill="none" stroke="#4a50b0" stroke-width="0.85"/>
<path d="M-3.98,-9.94 A16.8,16.8 0 0 1 9.64,3.68" fill="none" stroke="#4a50b0" stroke-width="0.85"/>
<path d="M-3.60,-12.11 A19.0,19.0 0 0 1 11.81,3.30" fill="none" stroke="#4a50b0" stroke-width="0.85"/>
<circle cx="4.40" cy="-12.97" r="0.85" fill="#4a50b0"/>
<circle cx="9.03" cy="-11.09" r="0.85" fill="#4a50b0"/>
<circle cx="12.33" cy="-6.37" r="0.85" fill="#4a50b0"/>
<circle cx="-5.72" cy="-6.85" r="0.85" fill="#4a50b0"/>
<circle cx="13.77" cy="-0.92" r="0.85" fill="#4a50b0"/>
<circle cx="-6.9" cy="6.6" r="9.7" fill="#5a62d6" stroke="#6a70d0" stroke-width="0.4"/>
<circle cx="-6.9" cy="6.6" r="1.9" fill="#3a40c8"/>
<circle cx="-1.39" cy="8.08" r="2.0" fill="#3a40c8"/>
<circle cx="-5.42" cy="12.11" r="2.0" fill="#3a40c8"/>
<circle cx="-10.93" cy="10.63" r="2.0" fill="#3a40c8"/>
<circle cx="-12.41" cy="5.12" r="2.0" fill="#3a40c8"/>
<circle cx="-8.38" cy="1.09" r="2.0" fill="#3a40c8"/>
<circle cx="-2.87" cy="2.57" r="2.0" fill="#3a40c8"/>
</g>
<g transform="translate(365.3,981.7)">
<ellipse cx="0" cy="0" rx="23.8" ry="16.6" transform="rotate(-48)" fill="#b090c4" stroke="#8a6a9a" stroke-width="0.8"/>
<circle cx="-5.1000000000000005" cy="4.8" r="11.2" fill="#c4a6d2"/>
<path d="M-4.75,-5.61 A12.4,12.4 0 0 1 5.31,4.45" fill="none" stroke="#6a4a78" stroke-width="0.85"/>
<path d="M-4.36,-7.78 A14.6,14.6 0 0 1 7.48,4.06" fill="none" stroke="#6a4a78" stroke-width="0.85"/>
<path d="M-3.98,-9.94 A16.8,16.8 0 0 1 9.64,3.68" fill="none" stroke="#6a4a78" stroke-width="0.85"/>
<path d="M-3.60,-12.11 A19.0,19.0 0 0 1 11.81,3.30" fill="none" stroke="#6a4a78" stroke-width="0.85"/>
<circle cx="4.40" cy="-12.97" r="0.85" fill="#6a4a78"/>
<circle cx="9.03" cy="-11.09" r="0.85" fill="#6a4a78"/>
<circle cx="12.33" cy="-6.37" r="0.85" fill="#6a4a78"/>
<circle cx="-5.72" cy="-6.85" r="0.85" fill="#6a4a78"/>
<circle cx="13.77" cy="-0.92" r="0.85" fill="#6a4a78"/>
<circle cx="-6.9" cy="6.6" r="9.7" fill="#7a5e8c" stroke="#8a6a9a" stroke-width="0.4"/>
<circle cx="-6.9" cy="6.6" r="1.9" fill="#5a3e6a"/>
<circle cx="-1.39" cy="8.08" r="2.0" fill="#5a3e6a"/>
<circle cx="-5.42" cy="12.11" r="2.0" fill="#5a3e6a"/>
<circle cx="-10.93" cy="10.63" r="2.0" fill="#5a3e6a"/>
<circle cx="-12.41" cy="5.12" r="2.0" fill="#5a3e6a"/>
<circle cx="-8.38" cy="1.09" r="2.0" fill="#5a3e6a"/>
<circle cx="-2.87" cy="2.57" r="2.0" fill="#5a3e6a"/>
</g>
<g transform="translate(413.3,981.7)">
<ellipse cx="0" cy="0" rx="23.8" ry="16.6" transform="rotate(-48)" fill="#cce6c2" stroke="#3a3a3a" stroke-width="0.9"/>
<circle cx="-5.1000000000000005" cy="4.8" r="11.2" fill="#dcefd4"/>
<path d="M-4.75,-5.61 A12.4,12.4 0 0 1 5.31,4.45" fill="none" stroke="#4a9a40" stroke-width="0.85"/>
<path d="M-4.36,-7.78 A14.6,14.6 0 0 1 7.48,4.06" fill="none" stroke="#4a9a40" stroke-width="0.85"/>
<path d="M-3.98,-9.94 A16.8,16.8 0 0 1 9.64,3.68" fill="none" stroke="#4a9a40" stroke-width="0.85"/>
<path d="M-3.60,-12.11 A19.0,19.0 0 0 1 11.81,3.30" fill="none" stroke="#4a9a40" stroke-width="0.85"/>
<circle cx="4.40" cy="-12.97" r="0.85" fill="#4a9a40"/>
<circle cx="9.03" cy="-11.09" r="0.85" fill="#4a9a40"/>
<circle cx="12.33" cy="-6.37" r="0.85" fill="#4a9a40"/>
<circle cx="-5.72" cy="-6.85" r="0.85" fill="#4a9a40"/>
<circle cx="13.77" cy="-0.92" r="0.85" fill="#4a9a40"/>
<circle cx="-6.9" cy="6.6" r="9.7" fill="#34b04a" stroke="#3a3a3a" stroke-width="0.4"/>
<circle cx="-6.9" cy="6.6" r="1.9" fill="#1a8a30"/>
<circle cx="-1.39" cy="8.08" r="2.0" fill="#1a8a30"/>
<circle cx="-5.42" cy="12.11" r="2.0" fill="#1a8a30"/>
<circle cx="-10.93" cy="10.63" r="2.0" fill="#1a8a30"/>
<circle cx="-12.41" cy="5.12" r="2.0" fill="#1a8a30"/>
<circle cx="-8.38" cy="1.09" r="2.0" fill="#1a8a30"/>
<circle cx="-2.87" cy="2.57" r="2.0" fill="#1a8a30"/>
</g>
<path d="M319.5,1016 L319.5,1067" fill="none" stroke="#414c66" stroke-width="2.6"/>
<path d="M314.9,1062.6 L319.5,1065.7 L324.1,1062.6 L319.5,1072Z" fill="#414c66" stroke="#414c66" stroke-width="0.5" stroke-linejoin="round"/>
<path d="M368.4,1016 L368.4,1067" fill="none" stroke="#414c66" stroke-width="2.6"/>
<path d="M363.79999999999995,1062.6 L368.4,1065.7 L373.0,1062.6 L368.4,1072Z" fill="#414c66" stroke="#414c66" stroke-width="0.5" stroke-linejoin="round"/>
<line x1="416.2" y1="1016" x2="416.2" y2="1060" stroke="#414c66" stroke-width="2.5"/>
<line x1="408" y1="1060.3" x2="424" y2="1060.3" stroke="#414c66" stroke-width="2.8"/>
<g transform="translate(317.9,1107)">
<ellipse cx="0" cy="0" rx="23.8" ry="16.6" transform="rotate(-48)" fill="#eeee8a" stroke="#6a6a40" stroke-width="1.0"/>
<circle cx="-5.1000000000000005" cy="4.8" r="11.2" fill="#f2f2a4"/>
<path d="M-4.75,-5.61 A12.4,12.4 0 0 1 5.31,4.45" fill="none" stroke="#2a2aa8" stroke-width="0.85"/>
<path d="M-4.36,-7.78 A14.6,14.6 0 0 1 7.48,4.06" fill="none" stroke="#2a2aa8" stroke-width="0.85"/>
<path d="M-3.98,-9.94 A16.8,16.8 0 0 1 9.64,3.68" fill="none" stroke="#2a2aa8" stroke-width="0.85"/>
<path d="M-3.60,-12.11 A19.0,19.0 0 0 1 11.81,3.30" fill="none" stroke="#2a2aa8" stroke-width="0.85"/>
<circle cx="4.40" cy="-12.97" r="0.85" fill="#2a2aa8"/>
<circle cx="9.03" cy="-11.09" r="0.85" fill="#2a2aa8"/>
<circle cx="12.33" cy="-6.37" r="0.85" fill="#2a2aa8"/>
<circle cx="-5.72" cy="-6.85" r="0.85" fill="#2a2aa8"/>
<circle cx="13.77" cy="-0.92" r="0.85" fill="#2a2aa8"/>
<circle cx="-6.9" cy="6.6" r="9.7" fill="#6a6ad0" stroke="#6a6a40" stroke-width="0.4"/>
<circle cx="-6.9" cy="6.6" r="1.9" fill="#3a3ac8"/>
<circle cx="-1.39" cy="8.08" r="2.0" fill="#3a3ac8"/>
<circle cx="-5.42" cy="12.11" r="2.0" fill="#3a3ac8"/>
<circle cx="-10.93" cy="10.63" r="2.0" fill="#3a3ac8"/>
<circle cx="-12.41" cy="5.12" r="2.0" fill="#3a3ac8"/>
<circle cx="-8.38" cy="1.09" r="2.0" fill="#3a3ac8"/>
<circle cx="-2.87" cy="2.57" r="2.0" fill="#3a3ac8"/>
</g>
<g transform="translate(366.4,1107.5)">
<ellipse cx="0" cy="0" rx="23.8" ry="16.6" transform="rotate(-48)" fill="#eeee7a" stroke="#3a3a30" stroke-width="1.1"/>
<circle cx="-5.1000000000000005" cy="4.8" r="11.2" fill="#f2f2a4"/>
<path d="M-4.75,-5.61 A12.4,12.4 0 0 1 5.31,4.45" fill="none" stroke="#1a1a98" stroke-width="0.85"/>
<path d="M-4.36,-7.78 A14.6,14.6 0 0 1 7.48,4.06" fill="none" stroke="#1a1a98" stroke-width="0.85"/>
<path d="M-3.98,-9.94 A16.8,16.8 0 0 1 9.64,3.68" fill="none" stroke="#1a1a98" stroke-width="0.85"/>
<path d="M-3.60,-12.11 A19.0,19.0 0 0 1 11.81,3.30" fill="none" stroke="#1a1a98" stroke-width="0.85"/>
<circle cx="4.40" cy="-12.97" r="0.85" fill="#1a1a98"/>
<circle cx="9.03" cy="-11.09" r="0.85" fill="#1a1a98"/>
<circle cx="12.33" cy="-6.37" r="0.85" fill="#1a1a98"/>
<circle cx="-5.72" cy="-6.85" r="0.85" fill="#1a1a98"/>
<circle cx="13.77" cy="-0.92" r="0.85" fill="#1a1a98"/>
<circle cx="-6.9" cy="6.6" r="9.7" fill="#2e2ec0" stroke="#3a3a30" stroke-width="0.4"/>
<circle cx="-6.9" cy="6.6" r="1.9" fill="#1010d8"/>
<circle cx="-1.39" cy="8.08" r="2.0" fill="#1010d8"/>
<circle cx="-5.42" cy="12.11" r="2.0" fill="#1010d8"/>
<circle cx="-10.93" cy="10.63" r="2.0" fill="#1010d8"/>
<circle cx="-12.41" cy="5.12" r="2.0" fill="#1010d8"/>
<circle cx="-8.38" cy="1.09" r="2.0" fill="#1010d8"/>
<circle cx="-2.87" cy="2.57" r="2.0" fill="#1010d8"/>
</g>
<line x1="86.5" y1="651" x2="87.7" y2="639" stroke="#5a9a3a" stroke-width="3.2" stroke-linecap="round"/>
<line x1="86.5" y1="651" x2="87.7" y2="639" stroke="#b2d895" stroke-width="2" stroke-linecap="round"/>
<line x1="71" y1="659" x2="60.5" y2="654" stroke="#5a9a3a" stroke-width="3.2" stroke-linecap="round"/>
<line x1="71" y1="659" x2="60.5" y2="654" stroke="#b2d895" stroke-width="2" stroke-linecap="round"/>
<line x1="66" y1="672" x2="59" y2="671.7" stroke="#5a9a3a" stroke-width="3.2" stroke-linecap="round"/>
<line x1="66" y1="672" x2="59" y2="671.7" stroke="#b2d895" stroke-width="2" stroke-linecap="round"/>
<line x1="67" y1="691" x2="57.4" y2="692" stroke="#5a9a3a" stroke-width="3.2" stroke-linecap="round"/>
<line x1="67" y1="691" x2="57.4" y2="692" stroke="#b2d895" stroke-width="2" stroke-linecap="round"/>
<line x1="74" y1="702" x2="71" y2="710.3" stroke="#5a9a3a" stroke-width="3.2" stroke-linecap="round"/>
<line x1="74" y1="702" x2="71" y2="710.3" stroke="#b2d895" stroke-width="2" stroke-linecap="round"/>
<line x1="91" y1="705" x2="93" y2="714.8" stroke="#5a9a3a" stroke-width="3.2" stroke-linecap="round"/>
<line x1="91" y1="705" x2="93" y2="714.8" stroke="#b2d895" stroke-width="2" stroke-linecap="round"/>
<path d="M85.5,651.2 C91,651 96,653 99,657 C102,661 102.5,667 100.6,672.4 C99.5,674.5 97,676 96,677 C97,679 98,681 98.8,683 C101.5,687 102,693 99.5,698 C96,704 90,706 84,705.8 C77,705.5 72,703 69,698 C65,691 64.8,685 65.4,679 C66,670 68,663 72,658.5 C75.5,654 80,651.3 85.5,651.2Z" fill="#b2d895" stroke="#5a9a3a" stroke-width="1.6"/>
<path d="M85.5,655 C90,655 94,657 96.5,660 C99,664 99,668 97.5,672 C95,675 92,676 90,677 C92,679 94,681 95.5,684 C98,688 98,693 96,697 C93,701 89,702.5 84.5,702.3 C78.5,702 74.5,699.5 72,695.5 C69,690 68.7,685 69.2,679.5 C69.8,671 71.5,665 75,661 C78,657 81.5,655.2 85.5,655Z" fill="#b68ad2"/>
<line x1="89" y1="677.5" x2="85" y2="654" stroke="#b2d895" stroke-width="1.9"/>
<line x1="89" y1="677.5" x2="75" y2="660" stroke="#b2d895" stroke-width="1.9"/>
<line x1="89" y1="677.5" x2="69" y2="670" stroke="#b2d895" stroke-width="1.9"/>
<line x1="89" y1="677.5" x2="68.5" y2="684" stroke="#b2d895" stroke-width="1.9"/>
<line x1="89" y1="677.5" x2="72" y2="696" stroke="#b2d895" stroke-width="1.9"/>
<line x1="89" y1="677.5" x2="82" y2="702.5" stroke="#b2d895" stroke-width="1.9"/>
<line x1="89" y1="677.5" x2="94" y2="699" stroke="#b2d895" stroke-width="1.9"/>
<line x1="89" y1="677.5" x2="96" y2="659" stroke="#b2d895" stroke-width="1.9"/>
<circle cx="90" cy="662" r="2.3" fill="#c8a2dc"/>
<circle cx="90" cy="662" r="1.3" fill="#f2cdea"/>
<circle cx="80" cy="660.5" r="2.3" fill="#c8a2dc"/>
<circle cx="80" cy="660.5" r="1.3" fill="#f2cdea"/>
<circle cx="73.5" cy="670" r="2.3" fill="#c8a2dc"/>
<circle cx="73.5" cy="670" r="1.3" fill="#f2cdea"/>
<circle cx="73" cy="684" r="2.3" fill="#c8a2dc"/>
<circle cx="73" cy="684" r="1.3" fill="#f2cdea"/>
<circle cx="77" cy="695" r="2.3" fill="#c8a2dc"/>
<circle cx="77" cy="695" r="1.3" fill="#f2cdea"/>
<circle cx="88" cy="698" r="2.3" fill="#c8a2dc"/>
<circle cx="88" cy="698" r="1.3" fill="#f2cdea"/>
<circle cx="93.5" cy="692" r="2.3" fill="#c8a2dc"/>
<circle cx="93.5" cy="692" r="1.3" fill="#f2cdea"/>
<circle cx="89" cy="677.5" r="5.6" fill="#b2d895"/>
<path d="M90,677 C100,676 110,678.5 119,678" stroke="#8cc070" stroke-width="4.2" fill="none" stroke-linecap="round"/>
<path d="M90,677 C100,676 110,678.5 119,678" stroke="#b2d895" stroke-width="3.0" fill="none" stroke-linecap="round"/>
<path d="M79,700 C83,692 86,688 90,684 C98,680 108,684 118.5,686.5" stroke="#d84a5a" stroke-width="0.9" fill="none"/>
<path d="M88,694 C89,688 90,684 93,682 C100,680 108,682 118,684" stroke="#4a5ab0" stroke-width="0.9" fill="none"/>
<path d="M213,826 C208,840 205,855 204.5,875 L203.8,917" stroke="#2a7ec0" stroke-width="2.6" fill="none" stroke-linecap="round"/>
<path d="M208.5,842 C211,858 212,880 212,915" stroke="#2a7ec0" stroke-width="2.0" fill="none" stroke-linecap="round"/>
<path d="M212,858 C216,868 216.6,878 216.4,887" stroke="#2a7ec0" stroke-width="1.1" fill="none" stroke-linecap="round"/>
<path d="M199,855 C194,868 192.5,885 192,923" stroke="#2a7ec0" stroke-width="1.5" fill="none" stroke-linecap="round"/>
<path d="M217.5,812 C210,825 204,840 202,860 C201,880 201.5,900 201.2,919" stroke="#e8474a" stroke-width="3.0" fill="none" stroke-linecap="round"/>
<path d="M200,850 C194,858 191,875 190.5,923" stroke="#e8474a" stroke-width="1.8" fill="none" stroke-linecap="round"/>
<path d="M196,852 C188,856 183.5,866 182.5,886" stroke="#e8474a" stroke-width="1.1" fill="none" stroke-linecap="round"/>
<path d="M212,825 C214,829 215.5,833 216,836" stroke="#e8474a" stroke-width="1.2" fill="none" stroke-linecap="round"/>
<path d="M196,852 C191,850 189,845 191,842 C193,840 193,846 192,848" stroke="#e8474a" stroke-width="0.9" fill="none" stroke-linecap="round"/>
<path d="M190.5,882 l-2,-1.5 M190.8,893 l-2.2,-1 M191,903 l-2,-1" stroke="#e8474a" stroke-width="0.8"/>
<path d="M193.5,870 l-1.5,2 M193,888 l-1.5,1.5" stroke="#2a7ec0" stroke-width="0.8"/>
<defs><linearGradient id="vf" x1="0" y1="0" x2="0" y2="1"><stop offset="0" stop-color="#fff" stop-opacity="0"/><stop offset="1" stop-color="#fff" stop-opacity="1"/></linearGradient><linearGradient id="vt" x1="0" y1="0" x2="0" y2="1"><stop offset="0" stop-color="#fff" stop-opacity="1"/><stop offset="1" stop-color="#fff" stop-opacity="0"/></linearGradient></defs>
<rect x="178" y="908" width="45" height="18" fill="url(#vf)"/>
<rect x="208" y="808" width="15" height="8" fill="url(#vt)"/>
<path d="M177.3,987.9 C182,984.5 190,986 197,987.9 C200,985 201,978 205.5,972.7 C210,967.5 220,966.5 225,971 C231,976 231,988 224.2,994 C218,998 212,998 209,1003 C205.5,1010 204,1020 205,1030 C208,1060 213,1090 216.7,1113.6 C217.5,1119 213,1122.5 208.5,1122.5 C204,1122.5 200.5,1119.5 199.8,1115 C196,1085 190,1055 185.6,1028.8 C182,1020 176,1010 174.5,998 C174,993 175,989.5 177.3,987.9Z" fill="#e9d6b4" stroke="#d2b88c" stroke-width="0.8"/>
<path d="M179.5,990 C184,987.5 191,988.5 197.5,990.5 C201,988 202.5,981 206.5,975.5 C211,970.5 219.5,970 223,974 C227.5,978.5 227,987 222,991 C216,995 211,995.5 207,1000.5 C203,1008 201.5,1020 202.5,1030 C205,1060 209.5,1090 213.2,1113 C213,1117 211,1118.5 208.5,1118.5 C206,1118.5 203.5,1117 203,1114 C199,1085 193.5,1055 189,1028.5 C185,1019 179.5,1009 178,998 C177.5,994 178,991.5 179.5,990Z" fill="#d8bd96"/>
<g fill="#c4a27a" opacity="0.75" clip-path="url(#bonec)"><circle cx="188.4" cy="1001.7" r="0.55"/><circle cx="195.2" cy="1005.4" r="0.55"/><circle cx="208.5" cy="972.1" r="0.55"/><circle cx="176.7" cy="1019.9" r="0.55"/><circle cx="189.5" cy="982.5" r="0.55"/><circle cx="227.8" cy="997.2" r="0.55"/><circle cx="219.5" cy="997.5" r="0.55"/><circle cx="209.2" cy="977.3" r="0.55"/><circle cx="209.0" cy="1021.8" r="0.55"/><circle cx="203.2" cy="1014.0" r="0.55"/><circle cx="210.9" cy="972.0" r="0.55"/><circle cx="215.4" cy="1004.6" r="0.55"/><circle cx="191.7" cy="969.9" r="0.55"/><circle cx="221.0" cy="997.3" r="0.55"/><circle cx="213.4" cy="1022.5" r="0.55"/><circle cx="213.1" cy="1025.1" r="0.55"/><circle cx="196.5" cy="1017.7" r="0.55"/><circle cx="199.1" cy="1026.0" r="0.55"/><circle cx="221.7" cy="974.0" r="0.55"/><circle cx="183.1" cy="981.5" r="0.55"/><circle cx="226.2" cy="995.0" r="0.55"/><circle cx="208.6" cy="986.7" r="0.55"/><circle cx="202.4" cy="991.9" r="0.55"/><circle cx="194.2" cy="1004.3" r="0.55"/><circle cx="206.4" cy="1024.1" r="0.55"/><circle cx="211.5" cy="1025.6" r="0.55"/><circle cx="220.5" cy="1029.4" r="0.55"/><circle cx="210.9" cy="978.1" r="0.55"/><circle cx="220.8" cy="1027.8" r="0.55"/><circle cx="223.0" cy="1003.3" r="0.55"/><circle cx="213.1" cy="981.1" r="0.55"/><circle cx="219.2" cy="1003.6" r="0.55"/><circle cx="190.8" cy="971.9" r="0.55"/><circle cx="220.4" cy="1029.4" r="0.55"/><circle cx="180.6" cy="1017.6" r="0.55"/><circle cx="197.3" cy="977.3" r="0.55"/><circle cx="191.3" cy="1015.7" r="0.55"/><circle cx="221.4" cy="970.7" r="0.55"/><circle cx="208.0" cy="970.8" r="0.55"/><circle cx="213.4" cy="988.5" r="0.55"/><circle cx="221.8" cy="1028.8" r="0.55"/><circle cx="202.3" cy="1029.9" r="0.55"/><circle cx="192.1" cy="972.8" r="0.55"/><circle cx="207.2" cy="969.9" r="0.55"/><circle cx="186.3" cy="993.3" r="0.55"/><circle cx="207.7" cy="977.7" r="0.55"/><circle cx="178.2" cy="1021.8" r="0.55"/><circle cx="192.3" cy="1027.4" r="0.55"/><circle cx="222.6" cy="991.4" r="0.55"/><circle cx="199.9" cy="1000.2" r="0.55"/><circle cx="209.5" cy="1004.9" r="0.55"/><circle cx="205.1" cy="1006.4" r="0.55"/><circle cx="224.9" cy="999.4" r="0.55"/><circle cx="198.4" cy="1012.7" r="0.55"/><circle cx="188.4" cy="986.7" r="0.55"/><circle cx="226.8" cy="1000.3" r="0.55"/><circle cx="204.5" cy="968.7" r="0.55"/><circle cx="197.6" cy="1004.0" r="0.55"/><circle cx="177.0" cy="1006.2" r="0.55"/><circle cx="208.9" cy="971.7" r="0.55"/><circle cx="208.6" cy="996.9" r="0.55"/><circle cx="211.3" cy="989.9" r="0.55"/><circle cx="212.8" cy="1013.8" r="0.55"/><circle cx="177.2" cy="971.8" r="0.55"/><circle cx="211.2" cy="1027.7" r="0.55"/><circle cx="189.1" cy="996.3" r="0.55"/><circle cx="206.8" cy="987.8" r="0.55"/><circle cx="194.9" cy="987.4" r="0.55"/><circle cx="195.2" cy="1004.9" r="0.55"/><circle cx="191.6" cy="991.4" r="0.55"/><circle cx="216.2" cy="969.7" r="0.55"/><circle cx="205.6" cy="1013.6" r="0.55"/><circle cx="192.1" cy="981.8" r="0.55"/><circle cx="217.8" cy="982.8" r="0.55"/><circle cx="185.7" cy="995.0" r="0.55"/><circle cx="212.3" cy="974.3" r="0.55"/><circle cx="192.7" cy="988.7" r="0.55"/><circle cx="219.3" cy="995.2" r="0.55"/><circle cx="220.5" cy="978.5" r="0.55"/><circle cx="193.5" cy="1008.3" r="0.55"/><circle cx="222.0" cy="996.0" r="0.55"/><circle cx="187.7" cy="975.5" r="0.55"/><circle cx="203.5" cy="979.8" r="0.55"/><circle cx="218.0" cy="1020.0" r="0.55"/><circle cx="185.5" cy="985.3" r="0.55"/><circle cx="218.0" cy="1007.8" r="0.55"/><circle cx="217.9" cy="989.4" r="0.55"/><circle cx="182.7" cy="986.1" r="0.55"/><circle cx="217.3" cy="984.8" r="0.55"/><circle cx="194.0" cy="993.8" r="0.55"/><circle cx="197.8" cy="993.4" r="0.55"/><circle cx="223.9" cy="977.7" r="0.55"/><circle cx="176.2" cy="1026.5" r="0.55"/><circle cx="221.8" cy="1029.2" r="0.55"/><circle cx="198.6" cy="1026.9" r="0.55"/><circle cx="224.2" cy="981.8" r="0.55"/><circle cx="214.8" cy="1019.9" r="0.55"/><circle cx="210.5" cy="1000.2" r="0.55"/><circle cx="191.0" cy="989.1" r="0.55"/><circle cx="187.8" cy="972.2" r="0.55"/><circle cx="206.6" cy="985.8" r="0.55"/><circle cx="218.1" cy="970.8" r="0.55"/><circle cx="223.0" cy="1011.0" r="0.55"/><circle cx="224.0" cy="1023.6" r="0.55"/><circle cx="222.8" cy="1003.8" r="0.55"/><circle cx="176.7" cy="1014.2" r="0.55"/><circle cx="184.9" cy="986.6" r="0.55"/><circle cx="210.5" cy="1000.5" r="0.55"/><circle cx="197.5" cy="1026.2" r="0.55"/><circle cx="207.8" cy="989.2" r="0.55"/><circle cx="189.1" cy="1021.4" r="0.55"/><circle cx="200.8" cy="1016.5" r="0.55"/><circle cx="194.3" cy="980.2" r="0.55"/><circle cx="203.8" cy="1018.6" r="0.55"/><circle cx="184.9" cy="1017.1" r="0.55"/><circle cx="223.9" cy="1018.0" r="0.55"/><circle cx="218.8" cy="968.5" r="0.55"/><circle cx="208.7" cy="1021.5" r="0.55"/><circle cx="178.6" cy="984.8" r="0.55"/><circle cx="190.0" cy="1000.7" r="0.55"/><circle cx="198.0" cy="997.3" r="0.55"/><circle cx="216.4" cy="968.1" r="0.55"/><circle cx="178.9" cy="975.9" r="0.55"/><circle cx="182.5" cy="972.2" r="0.55"/><circle cx="226.7" cy="1021.0" r="0.55"/><circle cx="180.5" cy="999.1" r="0.55"/><circle cx="192.4" cy="987.5" r="0.55"/><circle cx="194.3" cy="1008.1" r="0.55"/><circle cx="206.5" cy="990.4" r="0.55"/><circle cx="185.9" cy="988.4" r="0.55"/><circle cx="182.4" cy="1002.4" r="0.55"/><circle cx="213.2" cy="991.6" r="0.55"/><circle cx="180.2" cy="979.1" r="0.55"/><circle cx="195.4" cy="1005.5" r="0.55"/><circle cx="216.7" cy="991.6" r="0.55"/><circle cx="217.7" cy="1006.6" r="0.55"/><circle cx="198.4" cy="991.1" r="0.55"/><circle cx="201.8" cy="1011.6" r="0.55"/><circle cx="197.9" cy="1011.0" r="0.55"/><circle cx="200.0" cy="983.2" r="0.55"/><circle cx="203.9" cy="1011.1" r="0.55"/><circle cx="179.7" cy="994.3" r="0.55"/><circle cx="198.1" cy="1022.5" r="0.55"/><circle cx="224.7" cy="991.2" r="0.55"/><circle cx="222.7" cy="1017.0" r="0.55"/><circle cx="189.6" cy="996.8" r="0.55"/><circle cx="182.4" cy="1018.4" r="0.55"/><circle cx="210.4" cy="1023.0" r="0.55"/><circle cx="217.2" cy="1009.4" r="0.55"/><circle cx="214.2" cy="1003.0" r="0.55"/><circle cx="181.4" cy="1004.4" r="0.55"/><circle cx="176.3" cy="976.9" r="0.55"/><circle cx="216.3" cy="970.7" r="0.55"/><circle cx="180.8" cy="974.2" r="0.55"/><circle cx="221.8" cy="979.1" r="0.55"/><circle cx="177.2" cy="1020.2" r="0.55"/><circle cx="182.3" cy="1020.3" r="0.55"/><circle cx="211.0" cy="1019.8" r="0.55"/><circle cx="225.5" cy="1003.9" r="0.55"/><circle cx="217.5" cy="970.2" r="0.55"/><circle cx="215.9" cy="999.7" r="0.55"/><circle cx="213.2" cy="974.6" r="0.55"/><circle cx="214.9" cy="1025.9" r="0.55"/><circle cx="179.2" cy="988.1" r="0.55"/><circle cx="205.3" cy="1019.3" r="0.55"/><circle cx="188.6" cy="979.1" r="0.55"/><circle cx="189.0" cy="1006.2" r="0.55"/><circle cx="215.2" cy="992.4" r="0.55"/><circle cx="195.1" cy="992.6" r="0.55"/><circle cx="194.2" cy="993.9" r="0.55"/><circle cx="180.3" cy="999.0" r="0.55"/><circle cx="226.6" cy="993.6" r="0.55"/><circle cx="214.9" cy="978.0" r="0.55"/><circle cx="211.9" cy="1014.9" r="0.55"/><circle cx="211.0" cy="1000.1" r="0.55"/><circle cx="201.2" cy="1007.9" r="0.55"/><circle cx="222.7" cy="977.3" r="0.55"/><circle cx="181.0" cy="1014.4" r="0.55"/><circle cx="223.7" cy="1000.1" r="0.55"/><circle cx="199.0" cy="1012.6" r="0.55"/><circle cx="185.7" cy="984.6" r="0.55"/><circle cx="186.4" cy="1004.3" r="0.55"/><circle cx="192.4" cy="982.4" r="0.55"/><circle cx="211.9" cy="1027.1" r="0.55"/><circle cx="191.4" cy="1011.7" r="0.55"/><circle cx="197.5" cy="1020.9" r="0.55"/><circle cx="206.4" cy="984.6" r="0.55"/><circle cx="187.3" cy="969.4" r="0.55"/><circle cx="200.9" cy="991.7" r="0.55"/><circle cx="185.0" cy="990.3" r="0.55"/><circle cx="192.7" cy="1016.0" r="0.55"/><circle cx="183.5" cy="1029.5" r="0.55"/><circle cx="200.9" cy="1005.1" r="0.55"/><circle cx="200.3" cy="1019.7" r="0.55"/><circle cx="218.7" cy="1002.5" r="0.55"/><circle cx="201.0" cy="1012.7" r="0.55"/><circle cx="220.5" cy="992.8" r="0.55"/><circle cx="214.1" cy="1027.5" r="0.55"/><circle cx="200.3" cy="982.2" r="0.55"/><circle cx="188.2" cy="1012.5" r="0.55"/><circle cx="211.1" cy="1027.4" r="0.55"/><circle cx="220.4" cy="983.0" r="0.55"/><circle cx="185.9" cy="984.0" r="0.55"/><circle cx="185.7" cy="1011.7" r="0.55"/><circle cx="220.6" cy="1023.8" r="0.55"/><circle cx="189.3" cy="1021.6" r="0.55"/><circle cx="192.3" cy="994.2" r="0.55"/><circle cx="213.9" cy="973.3" r="0.55"/><circle cx="180.8" cy="1019.7" r="0.55"/><circle cx="191.2" cy="990.1" r="0.55"/><circle cx="206.2" cy="1009.9" r="0.55"/><circle cx="176.4" cy="988.8" r="0.55"/><circle cx="198.7" cy="998.1" r="0.55"/><circle cx="186.9" cy="1004.3" r="0.55"/><circle cx="225.7" cy="992.2" r="0.55"/><circle cx="204.3" cy="975.4" r="0.55"/><circle cx="190.3" cy="1009.3" r="0.55"/><circle cx="181.9" cy="1023.0" r="0.55"/><circle cx="223.3" cy="974.0" r="0.55"/><circle cx="224.9" cy="991.2" r="0.55"/><circle cx="216.2" cy="1015.0" r="0.55"/><circle cx="191.4" cy="1009.9" r="0.55"/><circle cx="210.0" cy="1018.0" r="0.55"/><circle cx="189.8" cy="1014.8" r="0.55"/><circle cx="226.0" cy="1009.7" r="0.55"/><circle cx="203.9" cy="975.0" r="0.55"/><circle cx="201.7" cy="989.8" r="0.55"/><circle cx="213.3" cy="1010.1" r="0.55"/><circle cx="205.5" cy="979.3" r="0.55"/><circle cx="209.6" cy="1007.1" r="0.55"/><circle cx="185.3" cy="1023.2" r="0.55"/><circle cx="210.1" cy="975.6" r="0.55"/><circle cx="224.5" cy="976.8" r="0.55"/><circle cx="193.2" cy="1012.7" r="0.55"/><circle cx="207.1" cy="1002.4" r="0.55"/><circle cx="209.7" cy="996.4" r="0.55"/><circle cx="192.2" cy="978.9" r="0.55"/><circle cx="179.6" cy="1012.4" r="0.55"/><circle cx="215.2" cy="1001.7" r="0.55"/><circle cx="214.5" cy="990.3" r="0.55"/><circle cx="189.8" cy="991.8" r="0.55"/><circle cx="221.4" cy="970.6" r="0.55"/><circle cx="202.2" cy="983.3" r="0.55"/><circle cx="216.0" cy="990.0" r="0.55"/><circle cx="193.3" cy="993.0" r="0.55"/><circle cx="204.2" cy="1015.8" r="0.55"/><circle cx="194.3" cy="1020.5" r="0.55"/><circle cx="181.8" cy="984.8" r="0.55"/><circle cx="181.2" cy="975.0" r="0.55"/><circle cx="216.5" cy="1013.1" r="0.55"/><circle cx="185.6" cy="979.7" r="0.55"/><circle cx="197.7" cy="1014.1" r="0.55"/><circle cx="218.4" cy="1014.4" r="0.55"/><circle cx="206.8" cy="977.1" r="0.55"/><circle cx="196.7" cy="980.0" r="0.55"/><circle cx="203.4" cy="1003.2" r="0.55"/><circle cx="186.5" cy="983.5" r="0.55"/><circle cx="216.6" cy="969.9" r="0.55"/><circle cx="217.8" cy="1023.3" r="0.55"/><circle cx="225.4" cy="991.8" r="0.55"/><circle cx="204.7" cy="1004.1" r="0.55"/><circle cx="208.9" cy="1028.6" r="0.55"/><circle cx="211.7" cy="986.6" r="0.55"/><circle cx="220.7" cy="998.0" r="0.55"/><circle cx="207.3" cy="1013.1" r="0.55"/><circle cx="176.1" cy="1015.8" r="0.55"/><circle cx="210.4" cy="998.5" r="0.55"/><circle cx="203.2" cy="996.6" r="0.55"/><circle cx="186.1" cy="1000.8" r="0.55"/><circle cx="177.9" cy="999.0" r="0.55"/><circle cx="209.6" cy="995.5" r="0.55"/><circle cx="205.4" cy="1027.5" r="0.55"/><circle cx="222.4" cy="976.4" r="0.55"/><circle cx="217.2" cy="1006.6" r="0.55"/><circle cx="178.6" cy="990.3" r="0.55"/><circle cx="188.1" cy="972.8" r="0.55"/><circle cx="204.0" cy="1025.6" r="0.55"/><circle cx="192.8" cy="1022.0" r="0.55"/><circle cx="212.1" cy="976.3" r="0.55"/><circle cx="220.6" cy="1005.3" r="0.55"/><circle cx="224.2" cy="1012.4" r="0.55"/><circle cx="214.5" cy="989.3" r="0.55"/><circle cx="217.9" cy="1025.8" r="0.55"/><circle cx="220.8" cy="995.1" r="0.55"/><circle cx="215.4" cy="998.1" r="0.55"/><circle cx="181.7" cy="970.6" r="0.55"/><circle cx="180.1" cy="980.4" r="0.55"/><circle cx="184.4" cy="998.8" r="0.55"/><circle cx="212.4" cy="1001.3" r="0.55"/><circle cx="197.9" cy="1008.3" r="0.55"/><circle cx="191.8" cy="996.8" r="0.55"/><circle cx="215.4" cy="992.9" r="0.55"/><circle cx="185.4" cy="1023.8" r="0.55"/><circle cx="213.4" cy="990.7" r="0.55"/><circle cx="195.3" cy="1000.8" r="0.55"/><circle cx="207.0" cy="981.9" r="0.55"/><circle cx="176.1" cy="981.0" r="0.55"/><circle cx="216.7" cy="976.9" r="0.55"/><circle cx="199.9" cy="980.1" r="0.55"/><circle cx="186.9" cy="978.6" r="0.55"/><circle cx="197.0" cy="978.4" r="0.55"/><circle cx="177.4" cy="974.8" r="0.55"/><circle cx="184.7" cy="998.4" r="0.55"/><circle cx="179.1" cy="969.4" r="0.55"/><circle cx="199.3" cy="993.3" r="0.55"/><circle cx="212.6" cy="971.2" r="0.55"/><circle cx="197.0" cy="992.6" r="0.55"/><circle cx="177.4" cy="1027.9" r="0.55"/><circle cx="187.4" cy="973.8" r="0.55"/><circle cx="200.7" cy="978.2" r="0.55"/><circle cx="208.4" cy="989.5" r="0.55"/><circle cx="182.4" cy="971.2" r="0.55"/><circle cx="213.8" cy="985.1" r="0.55"/><circle cx="217.0" cy="996.9" r="0.55"/><circle cx="224.5" cy="986.6" r="0.55"/><circle cx="189.0" cy="984.5" r="0.55"/><circle cx="218.4" cy="1007.0" r="0.55"/><circle cx="193.9" cy="973.8" r="0.55"/><circle cx="211.5" cy="1028.1" r="0.55"/><circle cx="206.8" cy="968.2" r="0.55"/><circle cx="177.6" cy="973.6" r="0.55"/><circle cx="184.9" cy="970.3" r="0.55"/><circle cx="178.8" cy="1008.6" r="0.55"/><circle cx="222.8" cy="980.4" r="0.55"/><circle cx="226.6" cy="997.6" r="0.55"/><circle cx="217.8" cy="1024.9" r="0.55"/><circle cx="224.9" cy="970.1" r="0.55"/><circle cx="191.8" cy="1005.6" r="0.55"/><circle cx="225.2" cy="973.4" r="0.55"/><circle cx="191.3" cy="1020.7" r="0.55"/><circle cx="182.0" cy="992.2" r="0.55"/><circle cx="193.4" cy="1010.2" r="0.55"/><circle cx="224.3" cy="978.8" r="0.55"/><circle cx="214.5" cy="1013.5" r="0.55"/><circle cx="219.5" cy="1002.3" r="0.55"/><circle cx="224.0" cy="990.5" r="0.55"/><circle cx="197.6" cy="982.2" r="0.55"/><circle cx="216.5" cy="997.8" r="0.55"/><circle cx="190.0" cy="978.5" r="0.55"/><circle cx="213.5" cy="1005.6" r="0.55"/><circle cx="213.0" cy="992.0" r="0.55"/><circle cx="201.3" cy="977.5" r="0.55"/><circle cx="213.0" cy="969.4" r="0.55"/><circle cx="200.3" cy="1015.0" r="0.55"/><circle cx="211.2" cy="974.0" r="0.55"/><circle cx="188.3" cy="1020.3" r="0.55"/><circle cx="209.4" cy="1022.5" r="0.55"/><circle cx="221.4" cy="995.9" r="0.55"/><circle cx="222.6" cy="1013.4" r="0.55"/><circle cx="193.4" cy="990.9" r="0.55"/><circle cx="179.7" cy="992.8" r="0.55"/><circle cx="225.7" cy="974.5" r="0.55"/><circle cx="205.6" cy="974.8" r="0.55"/><circle cx="180.2" cy="1008.2" r="0.55"/><circle cx="188.5" cy="971.0" r="0.55"/><circle cx="183.9" cy="1008.0" r="0.55"/><circle cx="206.4" cy="968.7" r="0.55"/><circle cx="188.0" cy="1028.0" r="0.55"/><circle cx="187.4" cy="1002.9" r="0.55"/><circle cx="197.8" cy="1016.4" r="0.55"/><circle cx="207.4" cy="1016.9" r="0.55"/><circle cx="203.8" cy="979.7" r="0.55"/><circle cx="185.2" cy="972.9" r="0.55"/><circle cx="218.9" cy="975.0" r="0.55"/><circle cx="177.2" cy="1027.9" r="0.55"/><circle cx="186.4" cy="1023.4" r="0.55"/><circle cx="180.5" cy="996.8" r="0.55"/><circle cx="187.6" cy="1019.4" r="0.55"/><circle cx="208.0" cy="1007.8" r="0.55"/><circle cx="215.6" cy="1022.0" r="0.55"/><circle cx="194.0" cy="1005.4" r="0.55"/><circle cx="199.2" cy="974.9" r="0.55"/><circle cx="219.4" cy="1004.9" r="0.55"/><circle cx="218.4" cy="980.8" r="0.55"/><circle cx="204.0" cy="996.8" r="0.55"/><circle cx="213.9" cy="972.8" r="0.55"/><circle cx="194.0" cy="998.0" r="0.55"/><circle cx="179.7" cy="1002.3" r="0.55"/><circle cx="214.2" cy="994.2" r="0.55"/><circle cx="209.7" cy="1005.6" r="0.55"/><circle cx="187.1" cy="989.7" r="0.55"/><circle cx="227.8" cy="988.8" r="0.55"/><circle cx="198.4" cy="973.2" r="0.55"/><circle cx="187.3" cy="978.2" r="0.55"/><circle cx="224.4" cy="1013.0" r="0.55"/><circle cx="221.5" cy="1029.2" r="0.55"/><circle cx="207.8" cy="1025.7" r="0.55"/><circle cx="203.9" cy="994.0" r="0.55"/><circle cx="225.3" cy="1024.0" r="0.55"/><circle cx="225.4" cy="998.0" r="0.55"/><circle cx="216.2" cy="993.2" r="0.55"/><circle cx="227.9" cy="1025.1" r="0.55"/><circle cx="191.2" cy="1025.9" r="0.55"/><circle cx="185.6" cy="973.9" r="0.55"/><circle cx="213.6" cy="986.2" r="0.55"/><circle cx="203.0" cy="1007.6" r="0.55"/><circle cx="178.1" cy="1014.2" r="0.55"/><circle cx="190.4" cy="994.8" r="0.55"/><circle cx="193.9" cy="1014.0" r="0.55"/><circle cx="214.8" cy="985.8" r="0.55"/><circle cx="181.4" cy="986.6" r="0.55"/><circle cx="197.4" cy="972.8" r="0.55"/><circle cx="184.0" cy="1015.3" r="0.55"/><circle cx="212.4" cy="1028.5" r="0.55"/><circle cx="226.9" cy="1022.3" r="0.55"/><circle cx="195.4" cy="978.0" r="0.55"/><circle cx="192.2" cy="996.7" r="0.55"/><circle cx="203.3" cy="1001.6" r="0.55"/><circle cx="194.7" cy="1020.9" r="0.55"/><circle cx="190.8" cy="996.7" r="0.55"/><circle cx="222.1" cy="1018.0" r="0.55"/><circle cx="191.5" cy="983.0" r="0.55"/><circle cx="217.9" cy="968.6" r="0.55"/><circle cx="182.8" cy="1000.9" r="0.55"/><circle cx="203.9" cy="978.3" r="0.55"/><circle cx="178.6" cy="980.6" r="0.55"/><circle cx="216.0" cy="996.9" r="0.55"/><circle cx="226.9" cy="1016.7" r="0.55"/><circle cx="226.9" cy="970.2" r="0.55"/><circle cx="185.6" cy="968.8" r="0.55"/></g>
<clipPath id="bonec"><path d="M179.5,990 C184,987.5 191,988.5 197.5,990.5 C201,988 202.5,981 206.5,975.5 C211,970.5 219.5,970 223,974 C227.5,978.5 227,987 222,991 C216,995 211,995.5 207,1000.5 C203,1008 201.5,1020 202.5,1030 C205,1060 209.5,1090 213.2,1113 C213,1117 211,1118.5 208.5,1118.5 C206,1118.5 203.5,1117 203,1114 C199,1085 193.5,1055 189,1028.5 C185,1019 179.5,1009 178,998 C177.5,994 178,991.5 179.5,990Z"/></clipPath>
<path d="M200,1112 C203,1120 214,1120 216,1112 L216.7,1113.6 C217.5,1119 213,1122.5 208.5,1122.5 C204,1122.5 200.5,1119.5 199.8,1115Z" fill="#c9ac82"/>
<path d="M191.5,1031 C195,1060 199.5,1090 203,1114 C204,1118.5 212.5,1118.5 213.2,1113.5 C210,1085 205.5,1055 200,1029 C198,1026 193,1027 191.5,1031Z" fill="#cf6a58" opacity="0.55"/>
<path d="M193.5,1033 C196.5,1060 200.5,1090 204.5,1114 C205.5,1117 210.5,1117 211,1113 C208,1085 204,1055 198.5,1031 Z" fill="#c8564a"/>
<path d="M197,1040 C200,1065 203,1090 205.6,1112.5" stroke="#3a3070" stroke-width="0.9" fill="none"/>
<path d="M200.2,1040 C203.5,1065 206.5,1090 209.4,1112" stroke="#e2c040" stroke-width="0.8" fill="none"/>
<path d="M205.6,1112.5 C206.5,1116 209,1116 209.4,1112" stroke="#e2c040" stroke-width="0.8" fill="none"/>
<path d="M192,1014 C194,1020 196,1026 198,1032" stroke="#6a6a7a" stroke-width="0.6" fill="none"/>
<path d="M203,1010 C201,1018 199,1025 198,1032" stroke="#b46a5a" stroke-width="0.6" fill="none"/>
<text class="serif" x="38.45" y="1158" font-size="18.5" fill="#161616" textLength="577.99" lengthAdjust="spacingAndGlyphs"><tspan font-weight="bold">Fig. 5 | SARS-CoV-2 BM IgG LLPCs are not durably established after mRNA</tspan></text>
<text class="serif" x="39.00" y="1181.5" font-size="18.5" fill="#161616" textLength="580.03" lengthAdjust="spacingAndGlyphs"><tspan font-weight="bold">vaccination. a</tspan>, Antigen specificity strata of all individuals examined for each</text>
<text class="serif" x="38.45" y="1205.5" font-size="18.5" fill="#161616" textLength="582.69" lengthAdjust="spacingAndGlyphs">BM ASC subset. <tspan font-style="italic">n</tspan>, number of BM donors. <tspan font-weight="bold">b</tspan>, Graphical summary. The majority</text>
<text class="serif" x="38.27" y="1229.3" font-size="18.5" fill="#161616" textLength="600.56" lengthAdjust="spacingAndGlyphs">of SARS-CoV-2 plasma cells are not established from the BM LLPC compartment</text>
<text class="serif" x="38.07" y="1253.8" font-size="18.5" fill="#161616" textLength="495.86" lengthAdjust="spacingAndGlyphs">33 months after mRNA vaccination. Created with <tspan fill="#1a6ea8" style="stroke:#1a6ea8">BioRender.com</tspan>.</text>
<rect x="39" y="1280.2" width="616" height="2" fill="#111"/>
</svg></body></html>
